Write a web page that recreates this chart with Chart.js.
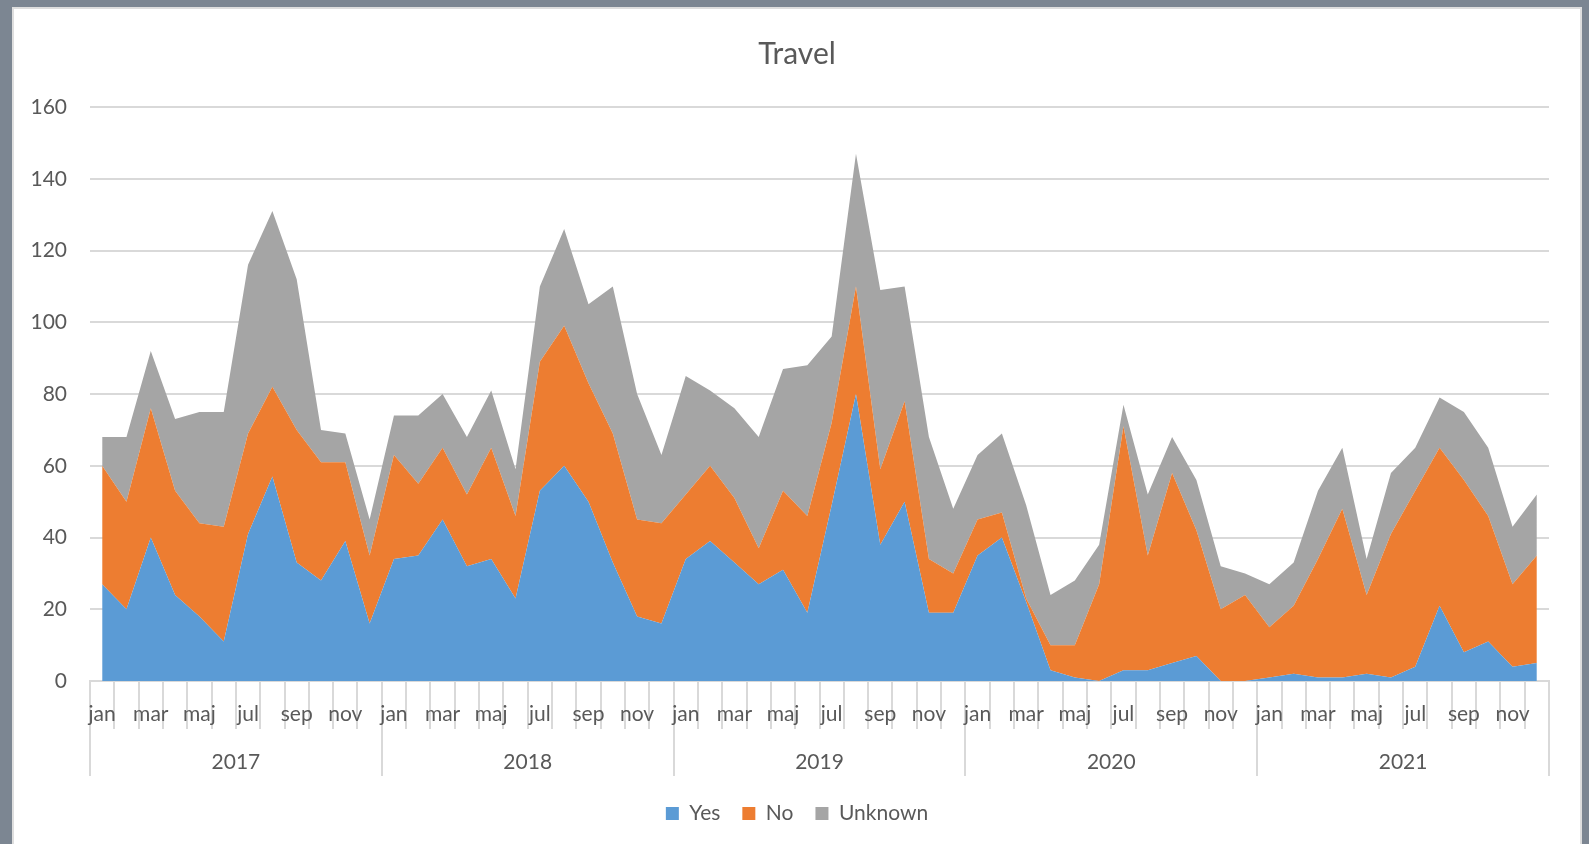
<!DOCTYPE html>
<html>
<head>
<meta charset="utf-8">
<script src="https://cdn.jsdelivr.net/npm/chart.js@4.4.1/dist/chart.umd.min.js"></script>
<style>
  html, body { margin: 0; padding: 0; width: 1589px; height: 844px; overflow: hidden; background: #7c8692; }
  #panel { position: absolute; left: 12px; top: 7px; width: 1570px; height: 837px; background: #ffffff;
           box-sizing: border-box; border-left: 2px solid #dedede; border-top: 2px solid #dedede; border-right: 2px solid #dedede; }
  #c { position: absolute; left: 14px; top: 9px; }
</style>
</head>
<body>
<div id="panel"></div>
<canvas id="c" width="1566" height="835"></canvas>
<script>
// ---- data ----
const monthNames = ['jan','feb','mar','apr','maj','jun','jul','aug','sep','okt','nov','dec'];
const years = ['2017','2018','2019','2020','2021'];
const categories = [];
years.forEach(y => monthNames.forEach(m => categories.push(m)));

const yesValues = [
  27,20,40,24,18,11,41,57,33,28,39,16,
  34,35,45,32,34,23,53,60,50,33,18,16,
  34,39,33,27,31,19,49,80,38,50,19,19,
  35,40,22,3,1,0,3,3,5,7,0,0,
  1,2,1,1,2,1,4,21,8,11,4,5
];
const noValues = [
  33,30,36,29,26,32,28,25,37,33,22,19,
  29,20,20,20,31,23,36,39,33,36,27,28,
  18,21,18,10,22,27,23,30,21,28,15,11,
  10,7,1,7,9,27,68,32,53,35,20,24,
  14,19,33,47,22,40,49,44,48,35,23,30
];
const unknownValues = [
  8,18,16,20,31,32,47,49,42,9,8,10,
  11,19,15,16,16,13,21,27,22,41,35,19,
  33,21,25,31,34,42,24,37,50,32,34,18,
  18,22,26,14,18,11,6,17,10,14,12,6,
  12,12,19,17,10,17,12,14,19,19,16,17
];
const seriesNames = ['Yes','No','Unknown'];
const seriesColors = ['#5b9bd5','#ed7d31','#a5a5a5'];

// ---- chart ----
const FONT = 'Lato';
const TXT = '#595959';
const GRID = '#d9d9d9';

new Chart(document.getElementById('c'), {
  type: 'line',
  data: {
    labels: categories,
    datasets: [yesValues, noValues, unknownValues].map((vals, i) => ({
      label: seriesNames[i],
      data: vals,
      backgroundColor: seriesColors[i],
      borderColor: seriesColors[i],
      borderWidth: 0,
      pointRadius: 0,
      pointHoverRadius: 0,
      tension: 0,
      fill: i === 0 ? 'origin' : '-1'
    }))
  },
  options: {
    responsive: false,
    devicePixelRatio: 1,
    animation: false,
    layout: { padding: { left: 0, right: 0, top: 0, bottom: 10 } },
    plugins: {
      title: {
        display: true,
        text: 'Travel',
        color: TXT,
        font: { family: FONT, size: 30, weight: 'normal' },
        padding: { top: 27, bottom: 35 }
      },
      legend: {
        position: 'bottom',
        labels: {
          color: TXT,
          font: { family: FONT, size: 21 },
          boxWidth: 13,
          boxHeight: 13,
          padding: 22
        }
      },
      tooltip: { enabled: false }
    },
    scales: {
      x: {
        type: 'category',
        position: 'bottom',
        weight: 0,
        offset: true,
        grid: { display: true, drawOnChartArea: false, drawTicks: true, tickLength: 48, offset: true, color: GRID, lineWidth: 2 },
        border: { display: true, color: GRID, width: 2 },
        ticks: {
          autoSkip: false, maxRotation: 0, minRotation: 0,
          padding: -27,
          color: TXT,
          font: { family: FONT, size: 21 },
          callback: function (v, i) { return i % 2 === 0 ? this.getLabelForValue(v) : ''; }
        },
        afterFit: (s) => { s.height = 47; }
      },
      year: {
        type: 'category',
        labels: years,
        position: 'bottom',
        weight: 1,
        offset: true,
        grid: { display: true, drawOnChartArea: false, drawTicks: true, tickLength: 48, offset: true, color: GRID, lineWidth: 2 },
        border: { display: false },
        ticks: {
          autoSkip: false, maxRotation: 0, minRotation: 0,
          padding: -26,
          color: TXT,
          font: { family: FONT, size: 21 }
        },
        afterFit: (s) => { s.height = 53; }
      },
      y: {
        stacked: true,
        min: 0,
        max: 160,
        ticks: { stepSize: 20, color: TXT, font: { family: FONT, size: 21 }, padding: 23 },
        grid: { color: GRID, lineWidth: 2, drawTicks: false },
        border: { display: false },
        afterFit: (s) => { s.width = 76; }
      },
      rightSpace: {
        type: 'linear',
        position: 'right',
        display: true,
        grid: { display: false, drawTicks: false },
        border: { display: false },
        ticks: { display: false },
        afterFit: (s) => { s.width = 31; }
      }
    }
  }
});
</script>
</body>
</html>
